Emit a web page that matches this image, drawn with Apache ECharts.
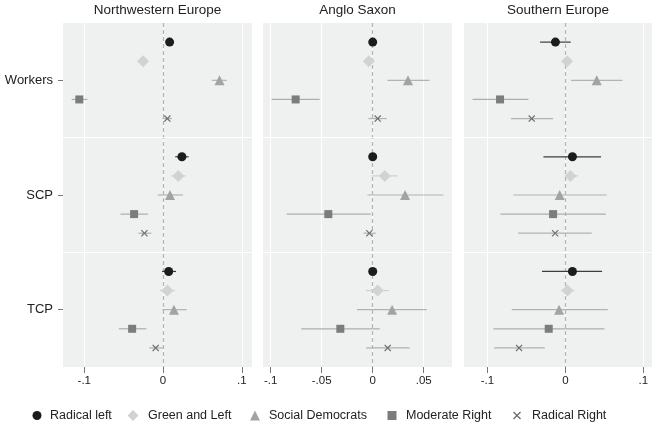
<!DOCTYPE html>
<html><head><meta charset="utf-8">
<script src="https://cdn.jsdelivr.net/npm/echarts@6/dist/echarts.min.js"></script>
<style>html,body{margin:0;padding:0;background:#fff}#c{width:656px;height:429px}</style>
</head><body><div id="c"></div>
<script>
const regions = ['Northwestern Europe', 'Anglo Saxon', 'Southern Europe'];
const groups = ['Workers', 'SCP', 'TCP'];
const parties = ['Radical left', 'Green and Left', 'Social Democrats', 'Moderate Right', 'Radical Right'];

// tick labels per panel
const ticksNW = [-0.1, 0, 0.1];
const ticksAS = [-0.1, -0.05, 0, 0.05];
const ticksSE = [-0.1, 0, 0.1];

// rows = parties, columns = Workers, SCP, TCP
const nwEst = [[0.0084, 0.024, 0.0072], [-0.0253, 0.0194, 0.0055], [0.0717, 0.0089, 0.0139], [-0.1063, -0.0367, -0.0392], [0.0055, -0.0236, -0.0093]];
const nwLo  = [[0.006, 0.0155, -0.0013], [-0.028, 0.0105, -0.0038], [0.062, -0.0067, -0.0008], [-0.116, -0.054, -0.0561], [-0.0005, -0.0312, -0.0177]];
const nwHi  = [[0.011, 0.0325, 0.0165], [-0.022, 0.0287, 0.0152], [0.081, 0.0253, 0.030], [-0.096, -0.019, -0.0211], [0.0114, -0.0148, 0.0004]];

const asEst = [[0.0, 0.0, 0.0], [-0.0039, 0.0118, 0.0049], [0.0346, 0.0317, 0.019], [-0.0755, -0.0435, -0.0317], [0.0049, -0.0033, 0.0147]];
const asLo  = [[-0.002, -0.0015, -0.0015], [-0.0075, -0.001, -0.0065], [0.0144, -0.0052, -0.0154], [-0.099, -0.0843, -0.070], [-0.0042, -0.009, -0.0065]];
const asHi  = [[0.002, 0.0015, 0.0015], [0.0016, 0.0245, 0.0157], [0.0556, 0.0693, 0.053], [-0.052, -0.002, 0.0069], [0.0137, 0.003, 0.0363]];

const seEst = [[-0.0128, 0.009, 0.009], [0.0021, 0.0064, 0.0026], [0.0402, -0.0073, -0.0081], [-0.0838, -0.0158, -0.0214], [-0.0432, -0.0132, -0.0594]];
const seLo  = [[-0.0325, -0.0282, -0.030], [-0.002, 0.0006, -0.0056], [0.0073, -0.0667, -0.0688], [-0.119, -0.0833, -0.0923], [-0.0697, -0.0607, -0.0915]];
const seHi  = [[0.0068, 0.0457, 0.047], [0.006, 0.0162, 0.0115], [0.0731, 0.053, 0.0543], [-0.0474, 0.0517, 0.05], [-0.0158, 0.0338, -0.0265]];

const panels = [
  {est: nwEst, lo: nwLo, hi: nwHi, ticks: ticksNW, min: -0.127, max: 0.113, left: 63, width: 189},
  {est: asEst, lo: asLo, hi: asHi, ticks: ticksAS, min: -0.1075, max: 0.0777, left: 263, width: 189},
  {est: seEst, lo: seLo, hi: seHi, ticks: ticksSE, min: -0.130, max: 0.111, left: 464, width: 188}
];

const xPath = 'path://M0,1.2L1.2,0L5,3.8L8.8,0L10,1.2L6.2,5L10,8.8L8.8,10L5,6.2L1.2,10L0,8.8L3.8,5Z';
const styles = [
  {symbol: 'circle', size: 9, color: '#1c1c1c', ci: '#3c3c3c'},
  {symbol: 'diamond', size: 12, color: '#d2d2d2', ci: '#cfcfcf'},
  {symbol: 'triangle', size: 10, color: '#a3a3a3', ci: '#b2b2b2'},
  {symbol: 'rect', size: 8, color: '#7c7c7c', ci: '#adadad'},
  {symbol: xPath, size: 7, color: '#6e6e6e', ci: '#b2b2b2'}
];

const TOP = 23, HEIGHT = 344;
const FONT = '"Liberation Sans", Arial, sans-serif';

function fmt(v) {
  const r = Math.round(v * 1000) / 1000;
  if (r === 0) return '0';
  const s = String(Math.abs(r)).replace(/^0/, '');
  return (r < 0 ? '-' : '') + s;
}

const grid = [], xAxis = [], yAxis = [], series = [], title = [];
panels.forEach((p, gi) => {
  grid.push({left: p.left, width: p.width, top: TOP, height: HEIGHT, show: true,
    backgroundColor: '#eff0f0', borderWidth: 0});
  title.push({text: regions[gi], left: p.left + p.width / 2, top: 3, padding: 0, textAlign: 'center',
    textStyle: {fontFamily: FONT, fontSize: 13.5, fontWeight: 'normal', color: '#222'}});
  xAxis.push({type: 'value', gridIndex: gi, min: p.min, max: p.max, position: 'bottom',
    axisLine: {show: false, onZero: false},
    axisTick: {show: true, length: 6, lineStyle: {color: '#777', width: 1}, customValues: p.ticks},
    axisLabel: {customValues: p.ticks, formatter: fmt, fontFamily: FONT, fontSize: 11.5, color: '#222', margin: 8, showMinLabel: true, showMaxLabel: true},
    splitLine: {show: true, lineStyle: {color: '#ffffff', width: 1}}
  });
  yAxis.push({type: 'value', gridIndex: gi, min: 0, max: 18, inverse: true, position: 'left',
    axisLine: {show: false, onZero: false},
    axisTick: {show: gi === 0, length: 5, lineStyle: {color: '#777'}, customValues: [3, 9, 15]},
    axisLabel: {show: gi === 0, customValues: [3, 9, 15], formatter: v => groups[Math.round((v - 3) / 6)],
      fontFamily: FONT, fontSize: 13, color: '#222', margin: 10},
    splitLine: {show: false}
  });
  parties.forEach((name, pi) => {
    const st = styles[pi];
    const ciData = groups.map((g, k) => [p.lo[pi][k], p.hi[pi][k], k * 6 + pi + 1]);
    const ptData = groups.map((g, k) => [p.est[pi][k], k * 6 + pi + 1]);
    series.push({
      type: 'custom', xAxisIndex: gi, yAxisIndex: gi, z: 2, silent: true,
      data: ciData, encode: {x: [0, 1], y: 2},
      renderItem: (params, api) => {
        const y = api.value(2);
        const a = api.coord([api.value(0), y]);
        const b = api.coord([api.value(1), y]);
        return {type: 'line', shape: {x1: a[0], y1: a[1], x2: b[0], y2: b[1]},
          style: {stroke: st.ci, lineWidth: 1.2}};
      }
    });
    const s = {
      type: 'scatter', name: name, xAxisIndex: gi, yAxisIndex: gi, z: 4,
      symbol: st.symbol, symbolSize: st.size, data: ptData,
      itemStyle: {color: st.color, opacity: 1}
    };
    if (pi === 0) {
      s.markLine = {silent: true, symbol: ['none', 'none'], label: {show: false}, z: 1,
        data: [
          {xAxis: 0, lineStyle: {color: '#b4b4b4', type: [4, 3], width: 1.2}},
          {yAxis: 6, lineStyle: {color: '#ffffff', type: 'solid', width: 1.2}},
          {yAxis: 12, lineStyle: {color: '#ffffff', type: 'solid', width: 1.2}}
        ]};
    }
    series.push(s);
  });
});

const legendCenters = [37, 133, 255, 392, 517];
const legendTextOffsets = [13, 15, 14, 14, 15];
const legendSizes = [9, 11, 10, 9, 8];
const legend = parties.map((name, i) => ({
  data: [{name: name, icon: styles[i].symbol}],
  left: legendCenters[i] - legendSizes[i] / 2, top: 409, padding: 0,
  itemWidth: legendSizes[i], itemHeight: legendSizes[i],
  selectedMode: false,
  textStyle: {fontFamily: FONT, fontSize: 12.5, color: '#222',
    padding: [0, 0, 0, Math.max(0, legendTextOffsets[i] - legendSizes[i] / 2 - 5)]}
}));

const chart = echarts.init(document.getElementById('c'), null, {renderer: 'canvas'});
chart.setOption({animation: false, backgroundColor: '#fff', title, grid, xAxis, yAxis, series, legend});
</script></body></html>
